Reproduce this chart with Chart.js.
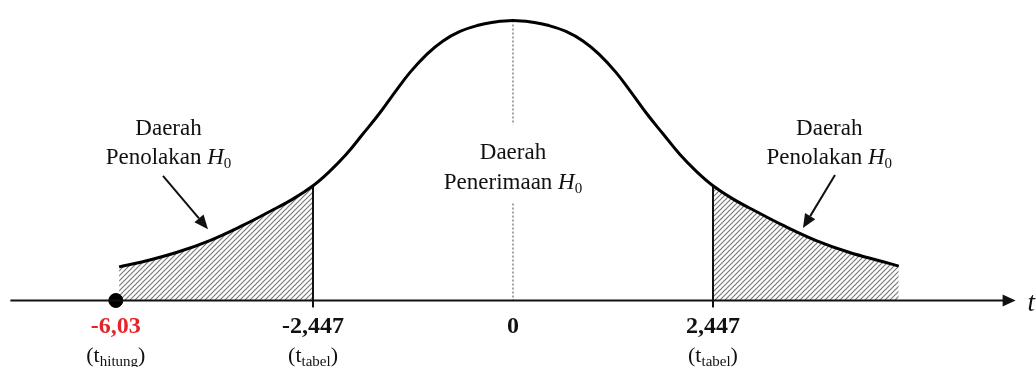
<!DOCTYPE html>
<html><head><meta charset="utf-8">
<script src="https://cdn.jsdelivr.net/npm/chart.js@4/dist/chart.umd.min.js"></script>
<style>html,body{margin:0;padding:0;background:#fff;overflow:hidden}canvas{display:block}</style>
</head><body>
<canvas id="c" width="1036" height="367"></canvas>
<script>
// ---- data (schematic t axis) ----
const tValues = [-4.82, -4.53, -4.11, -3.71, -3.30, -2.97, -2.69, -2.447, -2.25, -2.04, -1.835, -1.64, -1.444, -1.26, -1.052, -0.856, -0.648, -0.44, -0.245, 0,
                 0.245, 0.44, 0.648, 0.856, 1.052, 1.26, 1.444, 1.64, 1.835, 2.04, 2.25, 2.447, 2.69, 2.97, 3.30, 3.71, 4.11, 4.53, 4.72];
const density = [0.046, 0.053, 0.066, 0.082, 0.103, 0.122, 0.139, 0.157, 0.176, 0.200, 0.228, 0.255, 0.285, 0.312, 0.337, 0.355, 0.368, 0.376, 0.3805, 0.383,
                 0.3805, 0.376, 0.368, 0.355, 0.337, 0.312, 0.285, 0.255, 0.228, 0.200, 0.176, 0.157, 0.139, 0.122, 0.103, 0.082, 0.066, 0.053, 0.047];
const criticalT = 2.447;
const observedPos = -4.86;            // schematic position of t_hitung on the axis
const tickPositions = [-4.86, -2.447, 0, 2.447];
const tickLabels = ['-6,03', '-2,447', '0', '2,447'];
const tickSubLabels = ['hitung', 'tabel', '', 'tabel'];
const tickColors = ['#e3252b', '#111111', '#111111', '#111111'];

// ---- derived datasets ----
const curve = tValues.map((t, i) => ({x: t, y: density[i]}));
const leftTail = curve.filter(p => p.x <= -criticalT);
const rightTail = curve.filter(p => p.x >= criticalT);
const critIdxL = tValues.indexOf(-criticalT);
const critIdxR = tValues.indexOf(criticalT);
const peak = density[tValues.indexOf(0)];

// hatch pattern
function hatch() {
  const s = 5, c = document.createElement('canvas');
  c.width = s; c.height = s;
  const g = c.getContext('2d');
  g.strokeStyle = '#7a7a7a'; g.lineWidth = 1.2;
  g.beginPath();
  g.moveTo(0, s); g.lineTo(s, 0);
  g.moveTo(-1, 1); g.lineTo(1, -1);
  g.moveTo(s - 1, s + 1); g.lineTo(s + 1, s - 1);
  g.stroke();
  return g.createPattern(c, 'repeat');
}
const pattern = hatch();

const SERIF = '"Liberation Serif", "Times New Roman", serif';

function drawRuns(ctx, runs, cx, baseline, color) {
  let total = 0;
  runs.forEach(r => { ctx.font = r.f; r.w = ctx.measureText(r.t).width; total += r.w; });
  let x = cx - total / 2;
  ctx.fillStyle = color || '#111';
  ctx.textAlign = 'left';
  ctx.textBaseline = 'alphabetic';
  runs.forEach(r => { ctx.font = r.f; ctx.fillText(r.t, x, baseline + (r.dy || 0)); x += r.w; });
}

function arrow(ctx, x1, y1, x2, y2, lw, len, hw) {
  const a = Math.atan2(y2 - y1, x2 - x1);
  const bx = x2 - len * Math.cos(a), by = y2 - len * Math.sin(a);
  ctx.strokeStyle = '#111'; ctx.fillStyle = '#111'; ctx.lineWidth = lw;
  ctx.beginPath(); ctx.moveTo(x1, y1); ctx.lineTo(bx, by); ctx.stroke();
  ctx.beginPath();
  ctx.moveTo(x2, y2);
  ctx.lineTo(bx + hw * Math.sin(a), by - hw * Math.cos(a));
  ctx.lineTo(bx - hw * Math.sin(a), by + hw * Math.cos(a));
  ctx.closePath(); ctx.fill();
}

const notes = {
  regions: [
    {x: -4.215, lines: [[0.2268, 'Daerah', null], [0.1865, 'Penolakan ', 'H']]},
    {x: 0, lines: [[0.1932, 'Daerah', null], [0.1528, 'Penerimaan ', 'H']]},
    {x: 3.87, lines: [[0.2268, 'Daerah', null], [0.1865, 'Penolakan ', 'H']]}
  ],
  arrows: [
    {from: [-4.283, 0.1703], to: [-3.732, 0.0976]},
    {from: [3.940, 0.1717], to: [3.548, 0.0990]}
  ]
};

const overlay = {
  id: 'overlay',
  afterDatasetsDraw(chart) {
    const ctx = chart.ctx, xs = chart.scales.x, ys = chart.scales.y;
    const y0 = ys.getPixelForValue(0);
    ctx.save();
    // axis line with arrow
    const tip = xs.getPixelForValue(xs.max);
    ctx.strokeStyle = '#111'; ctx.lineWidth = 2.2;
    ctx.beginPath(); ctx.moveTo(xs.left, y0); ctx.lineTo(tip - 10, y0); ctx.stroke();
    ctx.fillStyle = '#111';
    ctx.beginPath(); ctx.moveTo(tip, y0); ctx.lineTo(tip - 13, y0 - 6); ctx.lineTo(tip - 13, y0 + 6); ctx.closePath(); ctx.fill();
    ctx.font = 'italic 27px ' + SERIF; ctx.textAlign = 'left'; ctx.textBaseline = 'alphabetic';
    ctx.fillText('t', tip + 12, y0 + 10);

    // tick labels
    tickPositions.forEach((p, i) => {
      const px = xs.getPixelForValue(p);
      drawRuns(ctx, [{t: tickLabels[i], f: 'bold 24px ' + SERIF}], px, y0 + 32.5, tickColors[i]);
      if (tickSubLabels[i]) {
        drawRuns(ctx, [
          {t: '(t', f: '22px ' + SERIF},
          {t: tickSubLabels[i], f: '15px ' + SERIF, dy: 4},
          {t: ')', f: '22px ' + SERIF}
        ], px, y0 + 61.5, '#111');
      }
    });

    // region notes
    notes.regions.forEach(r => {
      const cx = xs.getPixelForValue(r.x);
      r.lines.forEach(l => {
        const by = ys.getPixelForValue(l[0]);
        const runs = [{t: l[1], f: '23px ' + SERIF}];
        if (l[2]) {
          runs.push({t: l[2], f: 'italic 23px ' + SERIF});
          runs.push({t: '0', f: '15px ' + SERIF, dy: 4});
        }
        drawRuns(ctx, runs, cx, by, '#111');
      });
    });

    // arrows
    notes.arrows.forEach(a => {
      arrow(ctx, xs.getPixelForValue(a.from[0]), ys.getPixelForValue(a.from[1]),
                 xs.getPixelForValue(a.to[0]), ys.getPixelForValue(a.to[1]), 2, 14, 6);
    });
    ctx.restore();
  }
};

const smooth = {tension: 0.4};

new Chart(document.getElementById('c'), {
  type: 'scatter',
  data: {
    datasets: [
      {data: [{x: observedPos, y: 0}], pointRadius: 7, pointBackgroundColor: '#000', pointBorderColor: '#000', showLine: false, order: -2, clip: false},
      {data: curve, showLine: true, borderColor: '#000', borderWidth: 3, pointRadius: 0, ...smooth, fill: false, order: 0},
      {data: [{x: -criticalT, y: -0.0095}, {x: -criticalT, y: density[critIdxL]}], showLine: true, borderColor: '#111', borderWidth: 2, pointRadius: 0, clip: false, order: 1},
      {data: [{x: criticalT, y: -0.0095}, {x: criticalT, y: density[critIdxR]}], showLine: true, borderColor: '#111', borderWidth: 2, pointRadius: 0, clip: false, order: 1},
      {data: [{x: 0, y: peak}, {x: 0, y: 0.2403}, {x: 0, y: null}, {x: 0, y: 0.1326}, {x: 0, y: 0}], showLine: true, spanGaps: false,
       borderColor: '#666', borderWidth: 1.2, borderDash: [2, 2], pointRadius: 0, order: 3},
      {data: leftTail, showLine: true, borderColor: 'rgba(0,0,0,0)', borderWidth: 0, pointRadius: 0, ...smooth, fill: 'origin', backgroundColor: pattern, order: 2},
      {data: rightTail, showLine: true, borderColor: 'rgba(0,0,0,0)', borderWidth: 0, pointRadius: 0, ...smooth, fill: 'origin', backgroundColor: pattern, order: 2}
    ]
  },
  options: {
    responsive: false,
    animation: false,
    events: [],
    layout: {padding: {left: 10.4, right: 20.4, top: 3.4, bottom: 66.5}},
    scales: {
      x: {type: 'linear', min: -6.15, max: 6.15, display: false},
      y: {type: 'linear', min: 0, max: 0.4, display: false}
    },
    plugins: {legend: {display: false}, tooltip: {enabled: false}}
  },
  plugins: [overlay]
});
</script>
</body></html>
